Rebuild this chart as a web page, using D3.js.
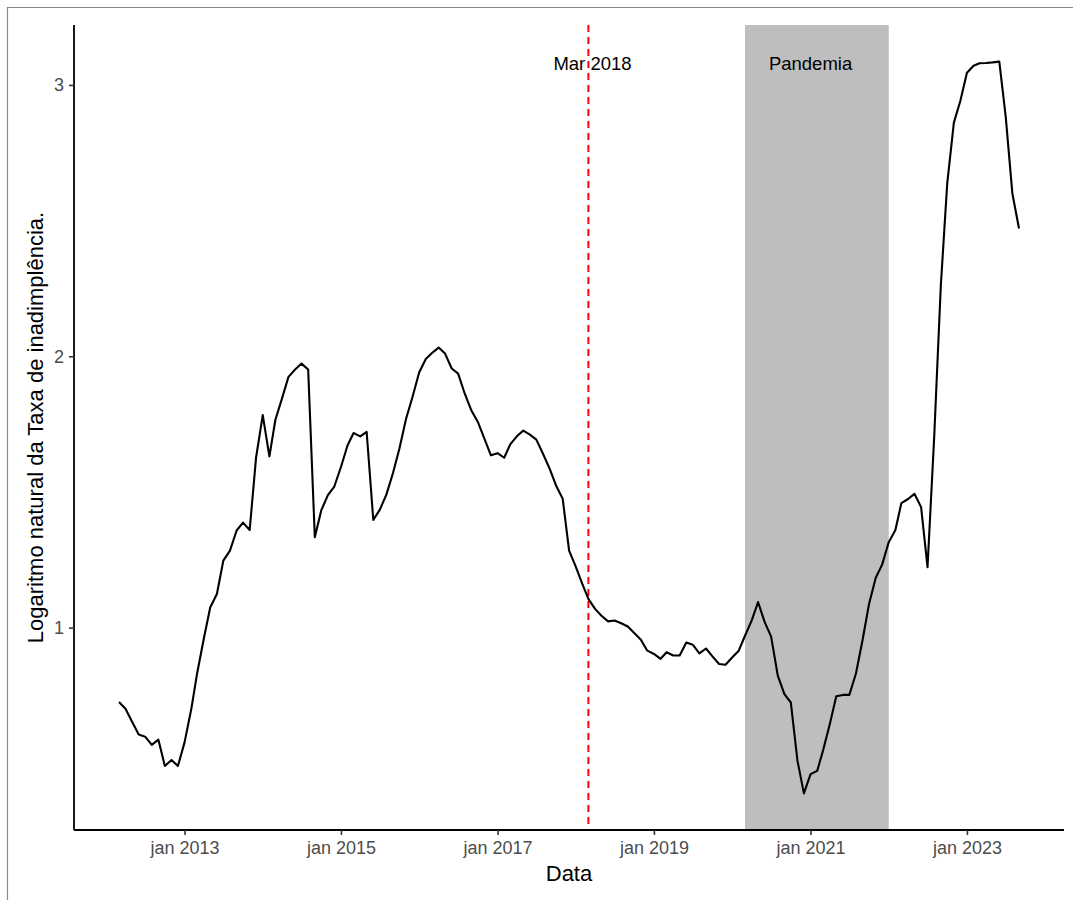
<html>
<head>
    <title>Taxa de inadimplência</title>
    <script type="text/javascript" src="https://cdn.jsdelivr.net/npm/d3@7"></script>
    <style>
	body {
		margin: 0;
		background: white;
		font-family: "Liberation Sans", Arial, sans-serif;
	}
	svg {
		display: block;
	}
	.tick text {
		fill: #4d4d4d;
		font-size: 18px;
		font-family: "Liberation Sans", Arial, sans-serif;
	}
	.tick line {
		stroke: #333333;
		stroke-width: 1.6px;
	}
	.domain {
		stroke: black;
		stroke-width: 1.8px;
	}
	.title {
		font-size: 22px;
		fill: black;
	}
	.annot {
		font-size: 18.5px;
		fill: black;
	}
    </style>
</head>
<body>
<script>
	// -----------------------------------------------------------------------------
	// data (log da taxa de inadimplencia, mensal, a partir de mar 2012)
	// -----------------------------------------------------------------------------
	var startMonth = "2012-03-01";
	var logTaxa = [
		0.726, 0.700, 0.653, 0.606, 0.598, 0.568, 0.587, 0.490, 0.512, 0.490,   // mar 2012 - dez 2012
		0.577, 0.698, 0.833, 0.960, 1.075, 1.124, 1.247, 1.284, 1.358, 1.387, 1.360, 1.628,   // 2013
		1.783, 1.631, 1.766, 1.845, 1.924, 1.951, 1.973, 1.951, 1.333, 1.432, 1.488, 1.520,   // 2014
		1.592, 1.672, 1.717, 1.705, 1.721, 1.397, 1.434, 1.490, 1.570, 1.660, 1.770, 1.850,   // 2015
		1.940, 1.990, 2.012, 2.032, 2.010, 1.955, 1.936, 1.862, 1.800, 1.758, 1.696, 1.635,   // 2016
		1.643, 1.626, 1.675, 1.705, 1.726, 1.711, 1.693, 1.641, 1.586, 1.524, 1.475, 1.284,   // 2017
		1.225, 1.160, 1.106, 1.069, 1.044, 1.023, 1.026, 1.016, 1.004, 0.980, 0.955, 0.915,   // 2018
		0.903, 0.885, 0.909, 0.897, 0.897, 0.945, 0.937, 0.905, 0.923, 0.894, 0.866, 0.863,   // 2019
		0.890, 0.915, 0.970, 1.026, 1.094, 1.020, 0.967, 0.823, 0.755, 0.724, 0.509, 0.389,   // 2020
		0.460, 0.472, 0.549, 0.645, 0.747, 0.752, 0.752, 0.831, 0.955, 1.087, 1.183, 1.232,   // 2021
		1.315, 1.360, 1.459, 1.474, 1.493, 1.444, 1.223, 1.700, 2.260, 2.637, 2.861, 2.941,   // 2022
		3.045, 3.071, 3.080, 3.081, 3.083, 3.086, 2.883, 2.600, 2.471                         // jan 2023 - set 2023
	];

	var xTickYears = [2013, 2015, 2017, 2019, 2021, 2023];
	var yTicks = [1, 2, 3];

	var marco2018 = "2018-03-01";
	var marcoLabel = "Mar 2018";
	var marcoLabelDate = "2018-03-20";
	var pandemia = ["2020-03-01", "2022-01-01"];
	var pandemiaLabel = "Pandemia";
	var pandemiaLabelDate = "2021-01-01";
	var labelValue = 3.08;

	var xTitle = "Data";
	var yTitle = "Logaritmo natural da Taxa de inadimplência.";

	// -----------------------------------------------------------------------------
	// layout
	// -----------------------------------------------------------------------------
	var sizeSvg = { wt: 1073, ht: 900 };
	var panel = { left: 74, right: 1064, top: 25, bottom: 830 };

	var parse = d3.utcParse("%Y-%m-%d");
	var start = parse(startMonth);
	var dataset = logTaxa.map(function(v, i){ return { date: d3.utcMonth.offset(start, i), value: v }; });

	// ggplot-like 5% expansion
	function expand(ext) {
		var pad = (ext[1] - ext[0]) * 0.05;
		return [ ext[0] - pad, ext[1] + pad ];
	}
	var xExt = d3.extent(dataset, function(d){ return d.date; });
	var xPad = (xExt[1] - xExt[0]) * 0.05;

	var xscale = d3.scaleUtc()
		.domain([ new Date(+xExt[0] - xPad), new Date(+xExt[1] + xPad) ])
		.range([ panel.left, panel.right ]);

	var yscale = d3.scaleLinear()
		.domain( expand(d3.extent(dataset, function(d){ return d.value; })) )
		.range([ panel.bottom, panel.top ]);

	var svg = d3.select("body").append("svg")
		.attr("width", sizeSvg.wt)
		.attr("height", sizeSvg.ht);

	// outer frame of the screenshot
	svg.append("path")
		.attr("d", "M7.5," + sizeSvg.ht + "V7.5H" + sizeSvg.wt)
		.attr("fill", "none")
		.attr("stroke", "#8a8a8a")
		.attr("stroke-width", 1.2);

	// pandemia shading
	svg.append("rect")
		.attr("x", xscale(parse(pandemia[0])))
		.attr("y", panel.top)
		.attr("width", xscale(parse(pandemia[1])) - xscale(parse(pandemia[0])))
		.attr("height", panel.bottom - panel.top)
		.attr("fill", "#bebebe");

	// annotations
	svg.append("text").attr("class", "annot")
		.attr("x", xscale(parse(marcoLabelDate)))
		.attr("y", yscale(labelValue))
		.attr("dy", "0.35em")
		.attr("text-anchor", "middle")
		.text(marcoLabel);

	svg.append("text").attr("class", "annot")
		.attr("x", xscale(parse(pandemiaLabelDate)))
		.attr("y", yscale(labelValue))
		.attr("dy", "0.35em")
		.attr("text-anchor", "middle")
		.text(pandemiaLabel);

	// marco 2018 line
	svg.append("line")
		.attr("x1", xscale(parse(marco2018))).attr("x2", xscale(parse(marco2018)))
		.attr("y1", panel.top).attr("y2", panel.bottom)
		.attr("stroke", "red")
		.attr("stroke-width", 2)
		.attr("stroke-dasharray", "7,5");

	// series
	var line = d3.line()
		.x(function(d){ return xscale(d.date); })
		.y(function(d){ return yscale(d.value); });

	svg.append("path")
		.datum(dataset)
		.attr("d", line)
		.attr("fill", "none")
		.attr("stroke", "black")
		.attr("stroke-width", 2.1)
		.attr("stroke-linejoin", "round");

	// axes
	var xAxis = d3.axisBottom(xscale)
		.tickValues( xTickYears.map(function(y){ return new Date(Date.UTC(y, 0, 1)); }) )
		.tickFormat( function(d){ return "jan " + d.getUTCFullYear(); } )
		.tickSizeInner(5).tickSizeOuter(0).tickPadding(6);

	var xG = svg.append("g")
		.attr("transform", "translate(0," + panel.bottom + ")")
		.call(xAxis);
	xG.select(".domain").attr("d", "M" + panel.left + ",0H" + panel.right);

	var yAxis = d3.axisLeft(yscale)
		.tickValues(yTicks)
		.tickFormat(d3.format("d"))
		.tickSizeInner(5).tickSizeOuter(0).tickPadding(5);

	var yG = svg.append("g")
		.attr("transform", "translate(" + panel.left + ",0)")
		.call(yAxis);
	yG.select(".domain").attr("d", "M0," + panel.top + "V" + panel.bottom);

	svg.selectAll(".tick text").attr("font-family", null).attr("font-size", null);

	// titles
	svg.append("text").attr("class", "title")
		.attr("x", (panel.left + panel.right) / 2)
		.attr("y", 881)
		.attr("text-anchor", "middle")
		.text(xTitle);

	svg.append("text").attr("class", "title")
		.attr("transform", "translate(43," + ((panel.top + panel.bottom) / 2) + ") rotate(-90)")
		.attr("text-anchor", "middle")
		.text(yTitle);
</script>
</body>
</html>
